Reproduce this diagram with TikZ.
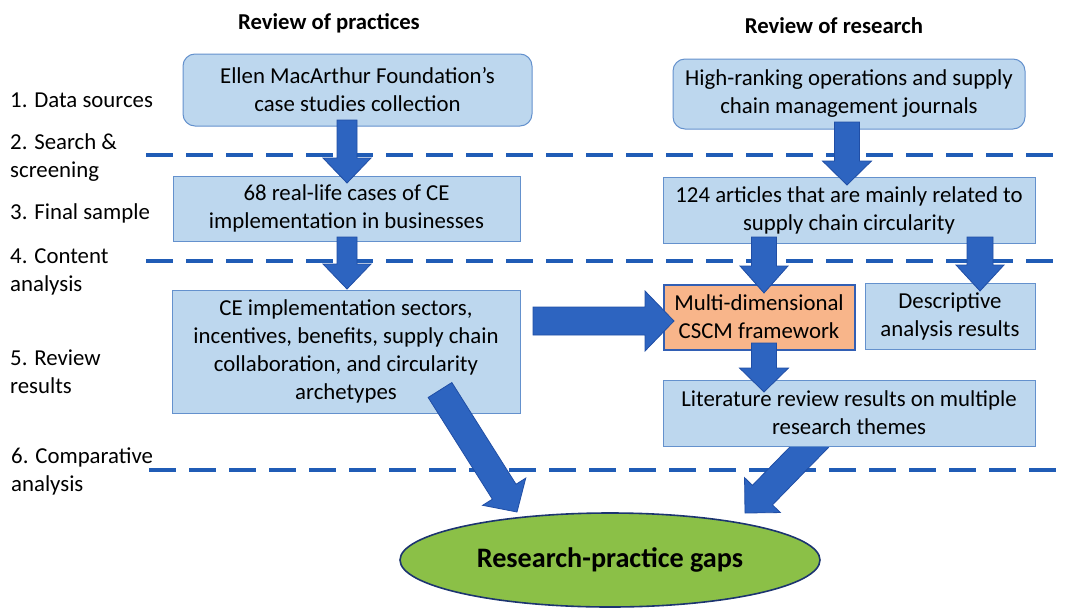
\documentclass[tikz,border=0pt]{standalone}
\usepackage{fontspec}
\setmainfont{Carlito}
\usetikzlibrary{calc,shapes.geometric}
\definecolor{boxfill}{RGB}{189,215,238}
\definecolor{boxline}{RGB}{100,145,205}
\definecolor{arrfill}{RGB}{45,100,192}
\definecolor{arrline}{RGB}{32,78,165}
\definecolor{dashcol}{RGB}{32,92,182}
\definecolor{orangefill}{RGB}{248,181,138}
\definecolor{orangeline}{RGB}{50,95,180}
\definecolor{greenfill}{RGB}{139,192,71}
\definecolor{ellline}{RGB}{28,52,112}
\newcommand\blockarrow[5]{%
  \coordinate (ba-b) at ($(#2)!#5!(#1)$);
  \draw[bigarrow] ($(#1)!#3!90:(#2)$) -- ($(ba-b)!#3!90:(#2)$) -- ($(ba-b)!#4!90:(#2)$)
    -- (#2) -- ($(ba-b)!#4!-90:(#2)$) -- ($(ba-b)!#3!-90:(#2)$) -- ($(#1)!#3!-90:(#2)$) -- cycle;}
\tikzset{
  txt/.style={font=\fontsize{22.8}{28}\selectfont, inner sep=0pt},
  hdr/.style={font=\fontsize{22.7}{26}\selectfont\bfseries, inner sep=0pt},
  lbl/.style={txt, anchor=west, align=left},
  box/.style={txt, draw=boxline, line width=1pt, fill=boxfill, align=center},
  rbox/.style={box, rounded corners=12pt},
  obox/.style={txt, draw=orangeline, line width=2pt, fill=orangefill, align=center},
  gapell/.style={ellipse, draw=ellline, line width=1.6pt, fill=greenfill, inner sep=0pt,
    font=\fontsize{28.2}{32}\selectfont\bfseries},
  dline/.style={draw=dashcol, line width=3.5pt, dash pattern=on 27pt off 13pt},
  bigarrow/.style={fill=arrfill, draw=arrline, line width=0.8pt, line join=miter},
}
\begin{document}
\begin{tikzpicture}[x=1pt,y=-1pt]
\useasboundingbox (0,0) rectangle (1065,608);
% column headers
\node[hdr] (h1) at (329,23) {Review of practices};
\node[hdr] (h2) at (834,26) {Review of research};
% stage labels
\node[lbl] (l1) at (10,100) {1. Data sources};
\node[lbl] (l2) at (10,158) {2. Search \&\\screening};
\node[lbl] (l3) at (10,213) {3. Final sample};
\node[lbl] (l4) at (10,272) {4. Content\\analysis};
\node[lbl] (l5) at (10,372) {5. Review\\results};
\node[lbl] (l6) at (11,471) {6. Comparative\\analysis};
% separators
\draw[dline] (146,155) -- (1065,155);
\draw[dline] (146,261) -- (1065,261);
\draw[dline] (149,470) -- (1065,470);
% boxes
\node[rbox, minimum width=349pt, minimum height=72pt] (A) at (357.5,90) {Ellen MacArthur Foundation’s\\case studies collection};
\node[rbox, minimum width=352pt, minimum height=70pt] (B) at (849,94) {High-ranking operations and supply\\chain management journals};
\node[box, minimum width=347pt, minimum height=65pt] (C) at (346.5,208.5) {68 real-life cases of CE\\implementation in businesses};
\node[box, minimum width=372pt, minimum height=66pt] (D) at (849,210) {124 articles that are mainly related to\\supply chain circularity};
\node[box, minimum width=348pt, minimum height=123pt] (E) at (346,351.5) {CE implementation sectors,\\incentives, benefits, supply chain\\collaboration, and circularity\\archetypes};
\node[obox, minimum width=191pt, minimum height=65pt] (F) at (759,317) {Multi-dimensional\\CSCM framework};
\node[box, minimum width=170pt, minimum height=66pt] (G) at (950,316) {Descriptive\\analysis results};
% arrow H -> gaps drawn under box H
\coordinate (a9s) at (823,433);
\coordinate (a9e) at (745,513);
\blockarrow{a9s}{a9e}{14pt}{25pt}{25pt}
\node[box, minimum width=372pt, minimum height=66pt] (H) at (849,413) {Literature review results on multiple\\research themes};
% result ellipse
\node[gapell, minimum width=420pt, minimum height=94pt] (R) at (610,560) {Research-practice gaps};
% arrows
\coordinate (a1s) at (347,120); \coordinate (a1e) at (347,183);
\coordinate (a2s) at (347,237); \coordinate (a2e) at (347,289);
\coordinate (a3s) at (847,122); \coordinate (a3e) at (847,185);
\coordinate (a4s) at (764,237); \coordinate (a4e) at (764,293);
\coordinate (a5s) at (980,237); \coordinate (a5e) at (980,291);
\coordinate (a6s) at (533,321); \coordinate (a6e) at (674,321);
\coordinate (a7s) at (764,343); \coordinate (a7e) at (764,392);
\coordinate (a8s) at (440,390); \coordinate (a8e) at (517,512);
\blockarrow{a1s}{a1e}{10pt}{24pt}{25pt}
\blockarrow{a2s}{a2e}{10pt}{24pt}{25pt}
\blockarrow{a3s}{a3e}{12.5pt}{24.5pt}{24pt}
\blockarrow{a4s}{a4e}{12.5pt}{24pt}{27pt}
\blockarrow{a5s}{a5e}{13pt}{24pt}{26pt}
\blockarrow{a6s}{a6e}{14pt}{30pt}{29pt}
\blockarrow{a7s}{a7e}{12.5pt}{24.5pt}{24pt}
\blockarrow{a8s}{a8e}{14pt}{25.5pt}{24pt}
\end{tikzpicture}
\end{document}
